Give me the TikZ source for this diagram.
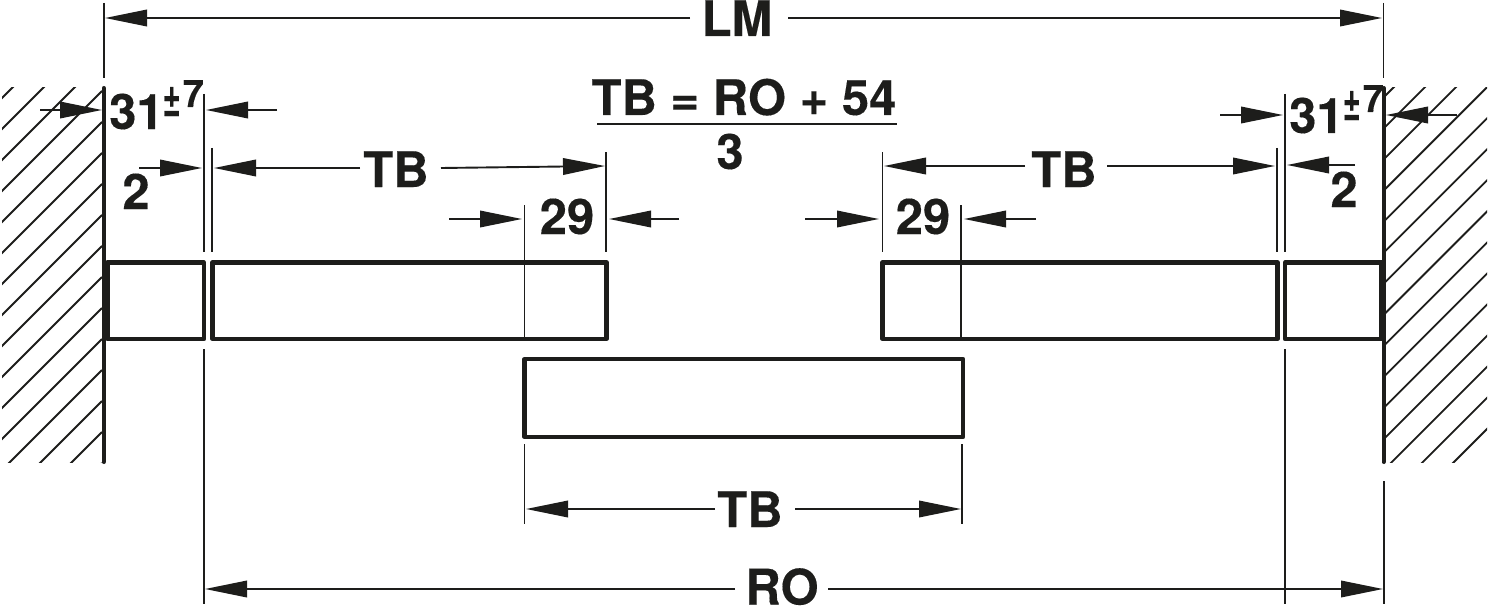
\documentclass[tikz,border=0pt]{standalone}
\usepackage{fontspec}
\usepackage{graphicx}
\setmainfont{TeX Gyre Heros}[BoldFont=* Bold,BoldFeatures={FakeBold=0.25}]
\usetikzlibrary{arrows.meta}
\definecolor{ink}{HTML}{1D1D1B}
\tikzset{
  thinline/.style={draw=ink,line width=1.9pt},
  heavy/.style={draw=ink,line width=4.2pt,line join=round},
  wall/.style={draw=ink,line width=4pt,line cap=round},
  dimarrow/.style={thinline,-{Triangle[length=42pt,width=16.5pt]}},
  hatchline/.style={draw=ink,line width=1.8pt},
  lbl/.style={inner sep=0pt,anchor=base,text=ink,font=\fontsize{49}{49}\selectfont\bfseries},
  lblw/.style={lbl,anchor=base west}
}
\newcommand{\tolplus}[2]{\raisebox{#1pt}{\resizebox{18pt}{29pt}{±}}\kern#2pt}
\newcommand{\tolseven}[1]{\raisebox{#1pt}{\fontsize{38}{38}\selectfont 7}}
\begin{document}
\begin{tikzpicture}[x=1pt,y=-1pt]
\useasboundingbox (0,0) rectangle (1488,607);
% hatching
\begin{scope}
\clip (2,88) rectangle (102,462);
\foreach \k in {0,...,15} {
  \pgfmathsetmacro{\s}{100+31*\k}
  \draw[hatchline] (102,\s-102) -- (\s-502,502);
}
\end{scope}
\begin{scope}
\clip (1385,88) rectangle (1487,462);
\foreach \k in {0,...,14} {
  \pgfmathsetmacro{\s}{1481+31.07*\k}
  \draw[hatchline] (1385,\s-1385) -- (1885,\s-1885);
}
\end{scope}
% walls
\coordinate (wl1) at (103.7,88); \coordinate (wl2) at (103.7,462);
\coordinate (wr1) at (1383.5,88); \coordinate (wr2) at (1383.5,462);
\draw[wall] (wl1) -- (wl2);
\draw[wall] (wr1) -- (wr2);
% boxes
\draw[heavy] (107.5,262.5) rectangle (204,339);
\draw[heavy] (212.5,262.5) rectangle (606.5,339);
\draw[heavy] (882.5,262.5) rectangle (1277.5,339);
\draw[heavy] (1285,262.5) rectangle (1381.5,339);
\draw[heavy] (524.5,359) rectangle (963,437);
% extension lines
\foreach \n/\x/\a/\b in {
  a/104/3/78, b/1383.5/3/78,
  c/204/94/252, d/212/148/252, e/606/152/252, f/524.5/205/339,
  g/882.5/152/252, h/961/205/339, i/1277/148/252, j/1285/94/252,
  k/204/349/604, l/1285/349/604, m/1384/481/604,
  n/524.5/444/524, o/962/444/524} {
  \coordinate (x\n1) at (\x,\a); \coordinate (x\n2) at (\x,\b);
  \draw[thinline] (x\n1) -- (x\n2);
}
% labels
\node[lbl] (lm) at (737,36) {LM};
\node[lbl] (ro) at (782,604.5) {RO};
\node[lbl] (tbformula) at (744,115) {TB = RO + 54};
\node[lbl] (three) at (730,169) {3};
\node[lblw] (toll) at (109,129) {31\kern-1pt\tolplus{13}{2}\tolseven{22}};
\node[lblw] (tolr) at (1289,133) {31\kern-1pt\tolplus{13}{2}\tolseven{21}};
\node[lbl] (twol) at (136,209) {2};
\node[lbl] (twor) at (1344,207) {2};
\node[lbl] (tba) at (396,187) {TB};
\node[lbl] (tbb) at (1064,187) {TB};
\node[lbl] (tbc) at (750,527) {TB};
\node[lbl] (nna) at (567,234) {29};
\node[lbl] (nnb) at (923,234) {29};
% formula bar
\coordinate (bar1) at (597,124); \coordinate (bar2) at (897,124);
\draw[thinline] (bar1) -- (bar2);
% dimension arrows: name/tail x/tail y/tip x/tip y
\foreach \n/\ax/\ay/\bx/\by in {
  lma/690/18/105/18, lmb/788/18/1382/18,
  roa/735/589/205/589, rob/828/589/1383/589,
  tla/40/110/102/110, tlb/277/110/206/110,
  twa/139/168/202/168, twb/360/168/214/168,
  tbr/441/168/605/166,
  nla/449/219/522/219, nlb/679/219/609/219,
  nra/805/219/879/219, nrb/1036/219/964/219,
  tbl/1025/166/884/166, tbs/1107/166/1275/166,
  rta/1220/115/1283/115, rtb/1457/115/1386/115,
  rwa/1355/165/1287/165,
  tca/715/509/526/509, tcb/795/509/961/509} {
  \coordinate (t\n) at (\ax,\ay); \coordinate (h\n) at (\bx,\by);
  \draw[dimarrow] (t\n) -- (h\n);
}
\end{tikzpicture}
\end{document}
